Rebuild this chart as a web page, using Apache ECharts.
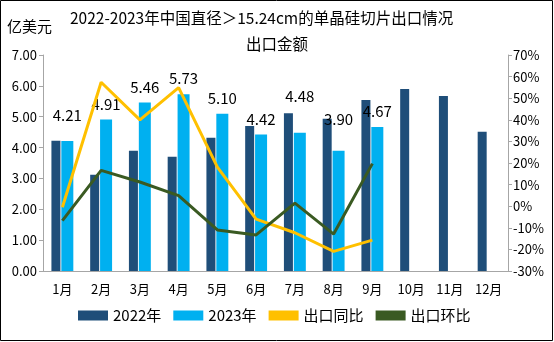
<!DOCTYPE html>
<html><head><meta charset="utf-8">
<script src="https://cdn.jsdelivr.net/npm/echarts@6/dist/echarts.min.js"></script>
<style>html,body{margin:0;padding:0;background:#fff}#c{width:554px;height:342px}</style>
</head><body><div id="c"></div>
<script>
const months = ['1月','2月','3月','4月','5月','6月','7月','8月','9月','10月','11月','12月'];
const exp2022 = [4.22, 3.12, 3.90, 3.70, 4.32, 4.70, 5.11, 4.93, 5.54, 5.90, 5.67, 4.51];
const exp2023 = [4.21, 4.91, 5.46, 5.73, 5.10, 4.42, 4.48, 3.90, 4.67];
const yoy = [-0.5, 57.4, 40.0, 54.9, 18.1, -6.0, -12.3, -20.9, -15.7];
const mom = [-6.7, 16.6, 11.2, 4.9, -11.0, -13.3, 1.4, -12.9, 19.7];
const leftTicks = {min: 0, max: 7, interval: 1};
const rightTicks = {min: -30, max: 70, interval: 10};
// extra label lift (px) per 2023 bar label, as placed in the original
const labelLift = [18, 8, 8, 8, 8, 8, 29, 24, 8];

const FONT = '"Noto Sans CJK SC", "Noto Sans", sans-serif';
const chart = echarts.init(document.getElementById('c'));
chart.setOption({
  animation: false,
  backgroundColor: '#fff',
  textStyle: {fontFamily: FONT, color: '#000'},
  grid: {left: 43, right: 46, top: 55, bottom: 71},
  graphic: [
    {type: 'rect', shape: {x: 0.5, y: 0.5, width: 552, height: 340}, style: {fill: 'none', stroke: '#000', lineWidth: 1}},
    {type: 'text', left: 7, top: 19, style: {text: '亿美元', font: '15px ' + FONT, fill: '#000'}},
    {type: 'text', left: 70, top: 10, style: {text: '2022-2023年中国直径＞15.24cm的单晶硅切片出口情况', font: '15.5px ' + FONT, fill: '#000'}},
    {type: 'text', left: 'center', top: 36, style: {text: '出口金额', font: '15.5px ' + FONT, fill: '#000'}}
  ],
  legend: {
    bottom: 14, left: 73,
    itemWidth: 30, itemHeight: 10, itemGap: 12,
    textStyle: {fontSize: 15, fontFamily: FONT, color: '#000'},
    data: [
      {name: '2022年', icon: 'rect'},
      {name: '2023年', icon: 'rect'},
      {name: '出口同比', icon: 'rect', itemStyle: {color: '#FFC000'}},
      {name: '出口环比', icon: 'rect', itemStyle: {color: '#3A5A22'}}
    ]
  },
  xAxis: {
    type: 'category', data: months,
    axisLine: {lineStyle: {color: '#A6A6A6'}},
    axisTick: {show: false},
    axisLabel: {color: '#000', fontSize: 13, margin: 12}
  },
  yAxis: [
    {type: 'value', min: leftTicks.min, max: leftTicks.max, interval: leftTicks.interval,
     splitLine: {show: false},
     axisLine: {show: true, lineStyle: {color: '#A6A6A6'}},
     axisTick: {show: true, length: 4, lineStyle: {color: '#A6A6A6'}},
     axisLabel: {color: '#000', fontSize: 13, margin: 6, formatter: v => v.toFixed(2)}},
    {type: 'value', min: rightTicks.min, max: rightTicks.max, interval: rightTicks.interval,
     splitLine: {show: false},
     axisLine: {show: true, lineStyle: {color: '#A6A6A6'}},
     axisTick: {show: true, length: 4, lineStyle: {color: '#A6A6A6'}},
     axisLabel: {color: '#000', fontSize: 13, margin: 5, formatter: '{value}%'}}
  ],
  series: [
    {name: '2022年', type: 'bar', data: exp2022, barWidth: 9, barGap: '10%',
     itemStyle: {color: '#1F4E79'}},
    {name: '2023年', type: 'bar', data: exp2023.map((v, i) => ({
        value: v,
        label: {show: true, position: 'top', distance: labelLift[i]}
      })), barWidth: 12,
     itemStyle: {color: '#00B0F0'},
     label: {show: true, color: '#000', fontSize: 15, fontFamily: FONT, formatter: p => p.value.toFixed(2)}},
    {name: '出口同比', type: 'line', yAxisIndex: 1, data: yoy, symbol: 'none',
     lineStyle: {color: '#FFC000', width: 3}, itemStyle: {color: '#FFC000'}, z: 5},
    {name: '出口环比', type: 'line', yAxisIndex: 1, data: mom, symbol: 'none',
     lineStyle: {color: '#3A5A22', width: 3}, itemStyle: {color: '#3A5A22'}, z: 5}
  ]
});
</script></body></html>
